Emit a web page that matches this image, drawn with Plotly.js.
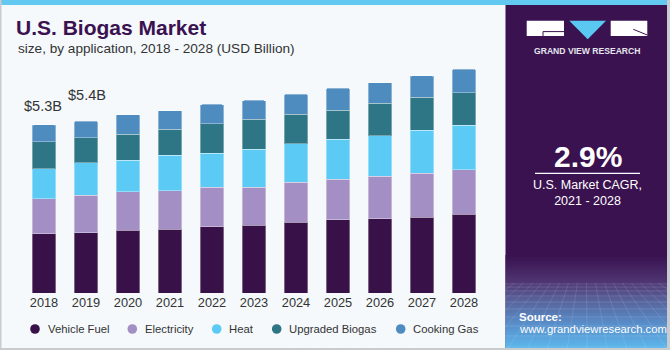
<!DOCTYPE html>
<html>
<head>
<meta charset="utf-8">
<script src="https://cdn.plot.ly/plotly-3.0.1.min.js"></script>
<style>html,body{margin:0;padding:0;background:#F5F9FC;}#chart{width:670px;height:350px;}</style>
</head>
<body>
<div id="chart"></div>
<script>
// ---- data (USD Billion) ----
const years = ['2018','2019','2020','2021','2022','2023','2024','2025','2026','2027','2028'];
const vehicleFuel    = [1.86,1.90,1.97,2.00,2.08,2.13,2.22,2.30,2.33,2.38,2.47];
const electricity    = [1.11,1.18,1.22,1.22,1.24,1.20,1.27,1.28,1.35,1.38,1.40];
const heat           = [0.94,1.01,0.99,1.11,1.07,1.19,1.21,1.26,1.26,1.36,1.40];
const upgradedBiogas = [0.85,0.79,0.82,0.82,0.94,0.95,0.92,0.91,1.03,1.03,1.03];
const cookingGas     = [0.53,0.53,0.61,0.59,0.60,0.59,0.63,0.69,0.65,0.68,0.74];
const seriesNames  = ['Vehicle Fuel','Electricity','Heat','Upgraded Biogas','Cooking Gas'];
const labelYears   = ['2018','2019'];
const labelTexts   = ['$5.3B','$5.4B'];
const cagrValue    = '2.9%';
const cagrText     = 'U.S. Market CAGR,<br>2021 - 2028';

// ---- styling ----
const colors = ['#371148','#A48FC4','#5BCAF5','#2E7585','#4E8BBF'];
const W = 670, H = 350;
const M = {l:23, r:185, t:60, b:57};
const PW = W - M.l - M.r, PH = H - M.t - M.b;
const X = px => (px - M.l) / PW;
const Y = py => (H - M.b - py) / PH;
const FONT = 'Liberation Sans, Arial, sans-serif';

const seriesData = [vehicleFuel, electricity, heat, upgradedBiogas, cookingGas];
const traces = seriesData.map((vals, i) => ({
  type: 'bar', name: seriesNames[i], x: years, y: vals,
  marker: {color: colors[i], line: {color: 'rgba(255,255,255,0.35)', width: 1}},
  showlegend: false, hoverinfo: 'x+y+name'
}));

const shapes = [];
const annotations = [];
function rectPx(x0, y0, x1, y1, fill, extra) {
  shapes.push(Object.assign({type:'rect', xref:'paper', yref:'paper', x0:X(x0), x1:X(x1), y0:Y(y1), y1:Y(y0),
    fillcolor: fill, line:{width:0}, layer:'below'}, extra||{}));
}
function linePx(x0, y0, x1, y1, color, width, layer) {
  shapes.push({type:'line', xref:'paper', yref:'paper', x0:X(x0), y0:Y(y0), x1:X(x1), y1:Y(y1),
    line:{color:color, width:width}, layer: layer||'above'});
}
function textPx(x, y, text, size, color, anchor, weight, extra) {
  annotations.push(Object.assign({xref:'paper', yref:'paper', x:X(x), y:Y(y), text:text, showarrow:false,
    xanchor: anchor||'left', yanchor:'middle', font:{family:FONT, size:size, color:color, weight: weight||400}}, extra||{}));
}

// frame
rectPx(0, 0, 670, 5, '#64C9F0');
rectPx(0, 0, 1.5, 350, '#C9CCCE');
rectPx(0, 348, 670, 350, '#C9CCCE');
rectPx(667, 0, 670, 350, '#C9CCCE');

// right panel with gradient
rectPx(505.5, 5, 667, 348, '#3A1250');
function lerp(a, b, t){ return Math.round(a + (b - a) * t); }
const stops = [[255,[58,18,80]],[280,[78,52,112]],[300,[88,100,156]],[322,[88,140,200]],[348,[92,184,236]]];
for (let y = 255; y < 348; y += 2) {
  let c = stops[stops.length-1][1];
  for (let k = 0; k < stops.length-1; k++) {
    if (y >= stops[k][0] && y < stops[k+1][0]) {
      const t = (y - stops[k][0]) / (stops[k+1][0] - stops[k][0]);
      c = [0,1,2].map(j => lerp(stops[k][1][j], stops[k+1][1][j], t));
    }
  }
  rectPx(505.5, y, 667, Math.min(y + 2.2, 348), 'rgb(' + c.join(',') + ')');
}
// mesh
const hy = [284, 287, 291, 296, 302, 309, 317, 326, 336, 347];
hy.forEach(y => linePx(505.5, y, 667, y, 'rgba(255,255,255,0.16)', 0.8, 'below'));
for (let i = -6; i <= 18; i++) {
  const xt = 505.5 + i * 9;
  const xb = 586 + (xt - 586) * 2.2;
  linePx(xt, 283, xb, 348, 'rgba(255,255,255,0.14)', 0.8, 'below');
}

// logo
rectPx(526.7, 20.7, 564, 36, '#FFFFFF', {layer:'above'});
linePx(543, 31.6, 564, 31.6, '#3A1250', 1);
linePx(543, 31.6, 543, 36, '#3A1250', 1);
shapes.push({type:'path', xref:'paper', yref:'paper',
  path: 'M ' + X(569.3) + ' ' + Y(20.7) + ' L ' + X(606) + ' ' + Y(20.7) + ' L ' + X(587.7) + ' ' + Y(39.3) + ' Z',
  fillcolor:'#5BC8F2', line:{width:0}});
rectPx(610.7, 20.7, 647.3, 36, '#FFFFFF', {layer:'above'});
linePx(633.3, 29.3, 647.3, 35, '#3A1250', 1);
textPx(587, 51, 'GRAND VIEW RESEARCH', 8.6, '#E6E6EE', 'center', 700);

// CAGR block
textPx(587.7, 156, cagrValue, 30, '#FFFFFF', 'center', 700);
linePx(535, 173.3, 640, 173.3, '#FFFFFF', 1.2);
textPx(587.7, 193.5, cagrText, 12.5, '#FFFFFF', 'center', 400);
textPx(517, 316.7, 'Source:', 11.5, '#FFFFFF', 'left', 700);
textPx(517, 328.7, 'www.grandviewresearch.com', 11.3, '#FFFFFF', 'left', 400);

// subtitle
textPx(16, 49, 'size, by application, 2018 - 2028 (USD Billion)', 13.6, '#333333', 'left', 400);

// bar labels (x given as category index)
labelYears.forEach((yr, i) => {
  const idx = years.indexOf(yr);
  const total = seriesData.reduce((s, arr) => s + arr[idx], 0);
  annotations.push({x: idx, y: total, xref:'x', yref:'y', text: labelTexts[i], showarrow:false,
    yanchor:'bottom', xanchor:'center', yshift: i === 0 ? 9 : 16, xshift: i === 0 ? -1 : 1,
    font:{family:FONT, size:14.5, color:'#333333'}});
});

// legend (manual, circles + text)
const legCx = [35, 132.3, 216.7, 276.7, 400.7];
const legY = 329, r = 4.8;
seriesNames.forEach((nm, i) => {
  shapes.push({type:'circle', xref:'paper', yref:'paper', x0:X(legCx[i]-r), x1:X(legCx[i]+r),
    y0:Y(legY+r), y1:Y(legY-r), fillcolor: colors[i], line:{width:0}});
  textPx(legCx[i] + 10.5, legY, nm, 11.3, '#333333', 'left', 400);
});

const layout = {
  width: W, height: H, margin: M,
  paper_bgcolor: '#F5F9FC', plot_bgcolor: '#F5F9FC',
  barmode: 'stack', bargap: 0.43, barcornerradius: 2,
  showlegend: false,
  title: {text: 'U.S. Biogas Market', x: 16/W, xref:'container', xanchor:'left',
    y: 1 - 28/H, yref:'container', yanchor:'middle',
    font: {family: FONT, size: 21, color: '#3A1250', weight: 700}},
  xaxis: {type:'category', showgrid:false, zeroline:false, showline:false, ticks:'',
    tickfont:{family:FONT, size:12.8, color:'#333333'}, range:[-0.5, 10.5], fixedrange:true},
  yaxis: {visible:false, range:[0, PH/31.79], fixedrange:true},
  shapes: shapes, annotations: annotations, font:{family:FONT}
};
Plotly.newPlot('chart', traces, layout, {displayModeBar:false, staticPlot:true});
</script>
</body>
</html>
